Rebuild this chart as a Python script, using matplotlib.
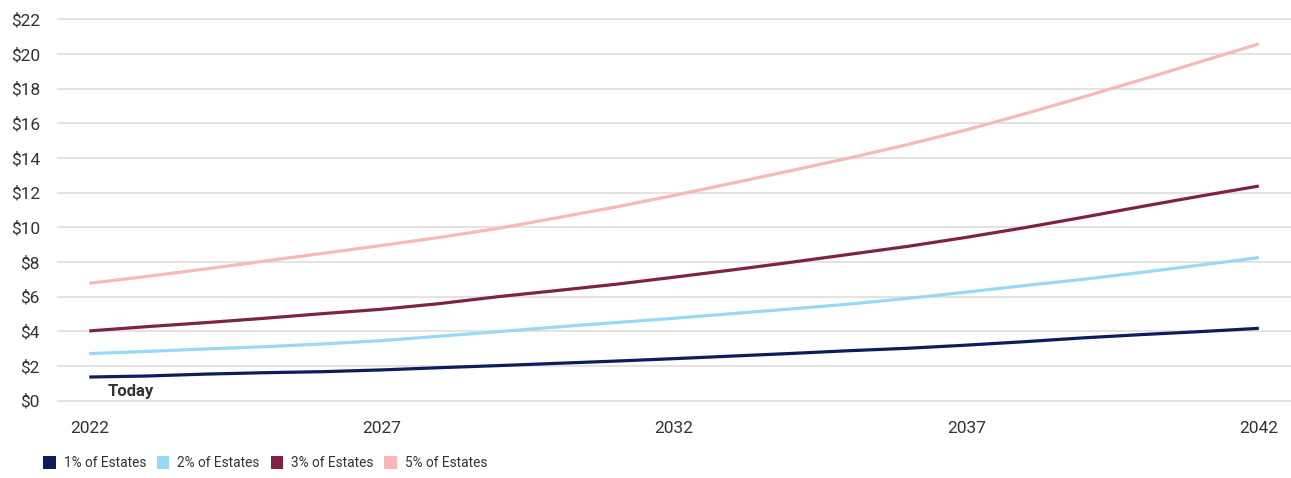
import matplotlib
matplotlib.use("Agg")
from matplotlib import pyplot as plt
from matplotlib.patches import Patch

years = list(range(2022, 2043))

# values, $ per year
pct1 = [1.36, 1.42, 1.53, 1.61, 1.67, 1.77, 1.90, 2.02, 2.15, 2.28, 2.42,
        2.57, 2.72, 2.88, 3.02, 3.20, 3.40, 3.62, 3.81, 3.98, 4.17]
pct2 = [2.71, 2.84, 2.98, 3.11, 3.27, 3.46, 3.72, 3.98, 4.25, 4.50, 4.75,
        5.02, 5.29, 5.57, 5.90, 6.26, 6.64, 7.00, 7.40, 7.82, 8.25]
pct3 = [4.02, 4.27, 4.50, 4.75, 5.02, 5.27, 5.60, 6.00, 6.35, 6.71, 7.12,
        7.54, 7.98, 8.44, 8.90, 9.42, 9.98, 10.58, 11.20, 11.80, 12.38]
pct5 = [6.77, 7.17, 7.60, 8.05, 8.50, 8.95, 9.42, 9.94, 10.55, 11.17, 11.84,
        12.55, 13.27, 14.00, 14.78, 15.62, 16.55, 17.52, 18.52, 19.55, 20.58]

labels = ["1% of Estates", "2% of Estates", "3% of Estates", "5% of Estates"]
colors = ["#0b1e5b", "#99d8f6", "#7e2346", "#f8b8b6"]
yticks = list(range(0, 23, 2))
xticks = [2022, 2027, 2032, 2037, 2042]

plt.rcParams['font.family'] = ['Roboto', 'DejaVu Sans']

fig = plt.figure(figsize=(12.91, 4.78), dpi=100)
ax = fig.add_axes([58 / 1291, 77.4 / 478, 1233 / 1291, 381.3 / 478])

for vals, c in zip([pct1, pct2, pct3, pct5], colors):
    ax.plot(years, vals, color=c, linewidth=2.3, solid_capstyle='butt', zorder=3)

ax.set_xlim(2021.465, 2042.55)
ax.set_ylim(0, 22)
ax.set_yticks(yticks)
ax.set_yticklabels([f"${v}" for v in yticks])
ax.set_xticks(xticks)
ax.grid(axis='y', color='#e3dfdf', linewidth=1.3, zorder=0)
ax.set_axisbelow(True)
for s in ax.spines.values():
    s.set_visible(False)
ax.tick_params(axis='both', length=0, labelsize=12.5, labelcolor='#333333')
ax.tick_params(axis='y', pad=13)
ax.tick_params(axis='x', pad=15)
for gl in ax.get_ygridlines():
    gl.set_clip_on(False)

ax.text(2022.32, 0.55, "Today", fontsize=12, fontweight='bold', color='#333333',
        ha='left', va='center')

handles = [Patch(facecolor=c, edgecolor='none') for c in colors]
fig.legend(handles, labels, loc='center left', bbox_to_anchor=(31 / 1291, 1 - 463 / 478),
           ncol=4, frameon=False, fontsize=9.8, handlelength=0.9, handleheight=1.05,
           handletextpad=0.6, columnspacing=0.8, labelcolor='#333333')

fig.savefig("out.png", dpi=100)
